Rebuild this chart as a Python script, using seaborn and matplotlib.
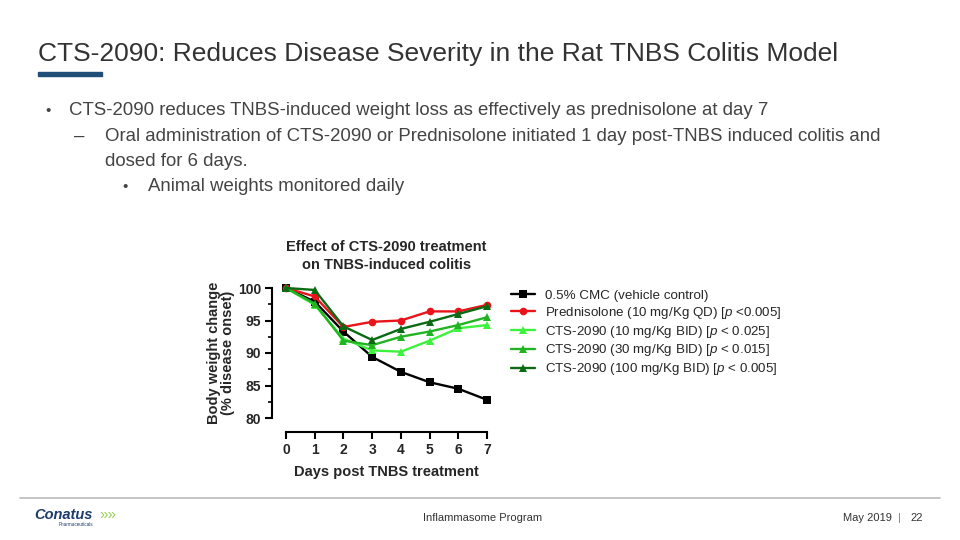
import pandas as pd
import numpy as np

import seaborn as sns
import matplotlib.pyplot as plt
from matplotlib.patches import Rectangle

days = [0, 1, 2, 3, 4, 5, 6, 7]
vehicle = [100, 97.9, 93.3, 89.4, 87.1, 85.5, 84.5, 82.8]
prednisolone = [100, 98.7, 94.0, 94.8, 95.0, 96.4, 96.4, 97.4]
cts_10 = [100, 97.4, 92.2, 90.4, 90.2, 91.9, 93.8, 94.3]
cts_30 = [100, 97.6, 91.9, 91.2, 92.5, 93.3, 94.3, 95.5]
cts_100 = [100, 99.7, 94.1, 92.0, 93.7, 94.8, 96.0, 97.2]

groups = ["0.5% CMC (vehicle control)",
          "Prednisolone (10 mg/Kg QD) [$\\it{p}$ <$\\it{0.005}$]",
          "CTS-2090 (10 mg/Kg BID) [$\\it{p}$ < $\\it{0.025}$]",
          "CTS-2090 (30 mg/Kg BID) [$\\it{p}$ < $\\it{0.015}$]",
          "CTS-2090 (100 mg/Kg BID) [$\\it{p}$ < $\\it{0.005}$]"]
series = [vehicle, prednisolone, cts_10, cts_30, cts_100]
colors = ["#000000", "#e8141a", "#3df23d", "#22b322", "#0b6b14"]
markers = ["s", "o", "^", "^", "^"]

rows = []
for g, vals in zip(groups, series):
    for d, v in zip(days, vals):
        rows.append({"day": d, "weight": v, "group": g})
df = pd.DataFrame(rows)

sns.set_style("white")
plt.rcParams['font.family'] = ['Liberation Sans', 'DejaVu Sans']
plt.rcParams['mathtext.fontset'] = 'custom'
plt.rcParams['mathtext.rm'] = 'Liberation Sans'
plt.rcParams['mathtext.it'] = 'Liberation Sans:italic'

fig = plt.figure(figsize=(9.6, 5.4), dpi=100)


def fy(y):
    return 1 - y / 540


# slide title + text
fig.text(38 / 960, fy(61), "CTS-2090: Reduces Disease Severity in the Rat TNBS Colitis Model",
         fontsize=19, color="#333333", va="baseline", ha="left")
fig.patches.append(Rectangle((38 / 960, fy(76)), 64 / 960, 3.5 / 540,
                             transform=fig.transFigure, color="#1f4e79"))
gray = "#444444"
fs = 13.4
fig.text(45 / 960, fy(115), "•", fontsize=11, color=gray, va="baseline")
fig.text(69 / 960, fy(115),
         "CTS-2090 reduces TNBS-induced weight loss as effectively as prednisolone at day 7",
         fontsize=fs, color=gray, va="baseline")
fig.text(74 / 960, fy(141), "–", fontsize=fs, color=gray, va="baseline")
fig.text(105 / 960, fy(141),
         "Oral administration of CTS-2090 or Prednisolone initiated 1 day post-TNBS induced colitis and",
         fontsize=fs, color=gray, va="baseline")
fig.text(105 / 960, fy(166), "dosed for 6 days.", fontsize=fs, color=gray, va="baseline")
fig.text(122 / 960, fy(191), "•", fontsize=11, color=gray, va="baseline")
fig.text(148 / 960, fy(191), "Animal weights monitored daily", fontsize=fs, color=gray, va="baseline")

# footer
fig.add_artist(plt.Line2D([20 / 960, 940 / 960], [fy(498), fy(498)],
                          transform=fig.transFigure, color="#bbbbbb", lw=1.2))
fig.text(34 / 960, fy(519), "Conatus", fontsize=10.5, fontweight="bold", style="italic",
         color="#1d3b6e", va="baseline")
fig.text(59 / 960, fy(526), "Pharmaceuticals", fontsize=3.3, color="#1d3b6e", va="baseline")
fig.text(99 / 960, fy(519), "»»", fontsize=11, color="#9acd5a", va="baseline")
fig.text(483 / 960, fy(521), "Inflammasome Program", fontsize=8, color="#333333",
         ha="center", va="baseline")
fig.text(892 / 960, fy(521), "May 2019", fontsize=8, color="#333333", ha="right", va="baseline")
fig.text(899 / 960, fy(521), "|", fontsize=8, color="#4a9a6a", ha="center", va="baseline")
fig.text(910 / 960, fy(521), "22", fontsize=8, color="#333333", ha="left", va="baseline")

# chart
ax = fig.add_axes([286 / 960, fy(418), 201 / 960, 130 / 540])
sns.lineplot(data=df, x="day", y="weight", hue="group", style="group",
             palette=dict(zip(groups, colors)), markers=dict(zip(groups, markers)),
             dashes=False, markersize=5.5, markeredgewidth=0, linewidth=1.7,
             ax=ax, clip_on=False)
ax.set_xlim(0, 7)
ax.set_ylim(80, 100)
ax.set_xticks(days)
ax.set_yticks([80, 85, 90, 95, 100])
ax.set_yticks([82.5, 87.5, 92.5, 97.5], minor=True)
sns.despine(ax=ax, offset=10)
for s in ["left", "bottom"]:
    ax.spines[s].set_linewidth(1.5)
    ax.spines[s].set_color("black")
ax.tick_params(axis="both", which="major", length=5, width=1.5, direction="out",
               bottom=True, left=True, labelsize=10, color="black", pad=3)
ax.tick_params(axis="y", which="minor", length=3, width=1.2, left=True, color="black")
for lab in ax.get_xticklabels() + ax.get_yticklabels():
    lab.set_fontweight("bold")
ax.set_xlabel("Days post TNBS treatment", fontsize=10.5, fontweight="bold", labelpad=6)
ax.set_ylabel("Body weight change\n(% disease onset)", fontsize=10.5, fontweight="bold",
              labelpad=2, linespacing=1.0)
ax.set_title("Effect of CTS-2090 treatment\non TNBS-induced colitis", fontsize=10.5,
             fontweight="bold", pad=14, linespacing=1.35)

ax.legend(loc="upper left", bbox_to_anchor=(506 / 960, fy(284)),
          bbox_transform=fig.transFigure, frameon=False, fontsize=9.6,
          handlelength=1.8, labelspacing=0.22, borderaxespad=0, handletextpad=0.7)

fig.savefig("out.png", dpi=100)
